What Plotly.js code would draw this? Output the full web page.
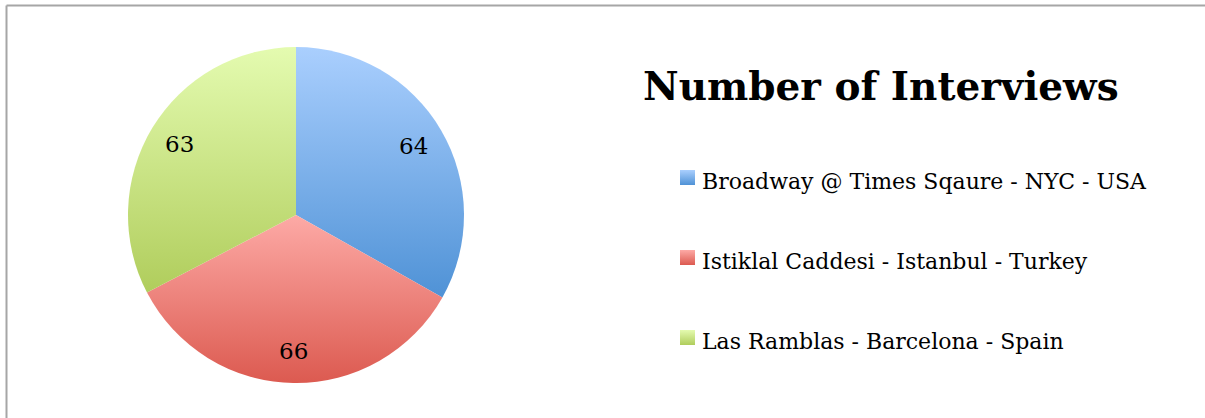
<!DOCTYPE html>
<html><head><meta charset="utf-8">
<script src="https://cdn.plot.ly/plotly-3.0.1.min.js"></script>
<style>html,body{margin:0;padding:0;background:#fff}#chart{width:1205px;height:418px}</style>
</head><body><div id="chart"></div>
<script>
const labels = ["Broadway @ Times Sqaure - NYC - USA", "Istiklal Caddesi - Istanbul - Turkey", "Las Ramblas - Barcelona - Spain"];
const values = [64, 66, 63];
const colors = ["#7fb1ea", "#f08a84", "#cbe48c"];
const gradTop = ["#aacffe", "#fdaaa6", "#e4fbb0"];
const gradBottom = ["#4f92d6", "#dc5a50", "#b0cd5c"];
const title = "Number of Interviews";

const W = 1205, H = 418;
const px = v => v / W, py = v => 1 - v / H;
const CX = 296, CY = 215, R = 168;

const trace = {
  type: "pie", labels: labels, values: values, sort: false, direction: "clockwise", rotation: 0,
  marker: {colors: colors, line: {width: 0}},
  textinfo: "none",
  domain: {x: [px(CX - R), px(CX + R)], y: [py(CY + R), py(CY - R)]},
  showlegend: false, hoverinfo: "label+value"
};

const annotations = [{
  text: "<b>" + title + "</b>", xref: "paper", yref: "paper", x: px(641), y: py(86),
  xanchor: "left", yanchor: "middle", showarrow: false,
  font: {family: "DejaVu Serif", size: 39, color: "#000"}
}];
// value labels placed at the mid-angle of each slice
const total = values.reduce((a, b) => a + b, 0);
let cum = 0;
values.forEach((v, i) => {
  const mid = (cum + v / 2) / total * 2 * Math.PI;
  cum += v;
  const r = R * 0.81;
  annotations.push({text: String(v), xref: "paper", yref: "paper",
    x: px(CX + r * Math.sin(mid)), y: py(CY - r * Math.cos(mid)),
    xanchor: "center", yanchor: "middle", showarrow: false,
    font: {family: "DejaVu Serif", size: 23, color: "#000"}});
});
const shapes = [
  {type: "line", xref: "paper", yref: "paper", x0: px(6.5), x1: px(6.5), y0: py(5.5), y1: 0, line: {color: "#a6a6a6", width: 2}},
  {type: "line", xref: "paper", yref: "paper", x0: px(6.5), x1: 1, y0: py(5.5), y1: py(5.5), line: {color: "#a6a6a6", width: 2}}
];
const legendY = [181, 261, 341];
labels.forEach((lab, i) => {
  annotations.push({text: lab, xref: "paper", yref: "paper", x: px(700), y: py(legendY[i]),
    xanchor: "left", yanchor: "middle", showarrow: false,
    font: {family: "DejaVu Serif", size: 22, color: "#000"}});
  shapes.push({type: "rect", xref: "paper", yref: "paper", x0: px(680), x1: px(695),
    y0: py(legendY[i] - 11), y1: py(legendY[i] + 4), fillcolor: colors[i], line: {width: 0}});
});

Plotly.newPlot("chart", [trace], {
  width: W, height: H, margin: {l: 0, r: 0, t: 0, b: 0},
  paper_bgcolor: "#fff", plot_bgcolor: "#fff", showlegend: false,
  annotations: annotations, shapes: shapes
}, {displayModeBar: false, staticPlot: true}).then(gd => {
  const svg = gd.querySelector(".main-svg");
  const ns = "http://www.w3.org/2000/svg";
  let defs = svg.querySelector("defs");
  colors.forEach((c, i) => {
    const g = document.createElementNS(ns, "linearGradient");
    g.setAttribute("id", "grad" + i);
    g.setAttribute("x1", "0"); g.setAttribute("y1", "0"); g.setAttribute("x2", "0"); g.setAttribute("y2", "1");
    [[0, gradTop[i]], [1, gradBottom[i]]].forEach(([o, col]) => {
      const s = document.createElementNS(ns, "stop");
      s.setAttribute("offset", o); s.setAttribute("stop-color", col);
      g.appendChild(s);
    });
    defs.appendChild(g);
  });
  gd.querySelectorAll(".slice path.surface").forEach((p, i) => { p.style.fill = "url(#grad" + i + ")"; });
  gd.querySelectorAll(".shapelayer path").forEach((p) => {
    const f = p.style.fill;
    colors.forEach((c, i) => {
      const tmp = document.createElement("div"); tmp.style.color = c;
      if (f && f.replace(/\s/g, "") === tmp.style.color.replace(/\s/g, "")) p.style.fill = "url(#grad" + i + ")";
    });
  });
});
</script></body></html>
